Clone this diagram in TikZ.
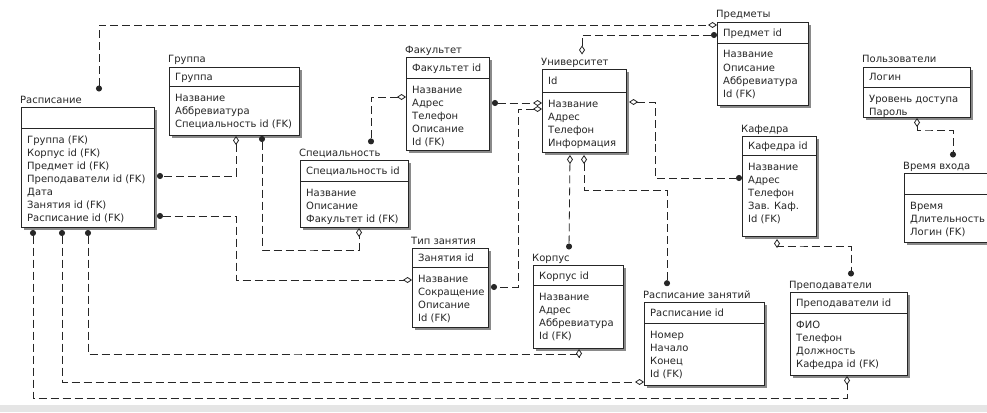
\documentclass[tikz,border=0pt]{standalone}
\usepackage{fontspec}
\setmainfont{DejaVu Sans}
\usetikzlibrary{arrows.meta,calc}
\definecolor{ink}{HTML}{262626}
\definecolor{shadowc}{HTML}{8A8A8A}
\tikzset{
  ebox/.style={draw=ink, line width=0.8pt, fill=white, inner sep=0pt, outer sep=0pt},
  eline/.style={draw=ink, line width=0.8pt},
  etxt/.style={inner sep=0pt, text=ink, font=\fontsize{10}{12}\selectfont},
  rel/.style={draw=ink, line width=0.8pt, dash pattern=on 8pt off 4pt},
  erdot/.tip={Circle[length=6pt]},
  erdia/.tip={Diamond[open,length=9pt,width=6pt,fill=white]}
}
\newcommand\ent[9]{%
  \fill[shadowc] ({#2+3},{#3+3}) rectangle ({#4+3},{#6+3});
  \node[ebox, anchor=north west, minimum width={(#4-#2)*1pt}, minimum height={(#6-#3)*1pt}] (#1) at (#2,#3) {};
  \draw[eline] (#2,#5) -- (#4,#5);
  \node[etxt, anchor=base west] (#1-t) at ({#2-1},{#3-4}) {#7};
  \node[etxt, anchor=base west] (#1-h) at ({#2+6},{(#3+#5)/2+4}) {#8};
  \foreach \rowtext [count=\i from 0] in {#9} {\node[etxt, anchor=base west] (#1-r\i) at ({#2+6},{#5+15+13*\i}) {\rowtext};}%
}
\begin{document}
\begin{tikzpicture}[x=1pt,y=-1pt]
\useasboundingbox (0,0) rectangle (987,412);
\fill[white] (0,0) rectangle (987,412);
\fill[black!10] (0,405) rectangle (987,412);
% entities
\ent{rasp}{21}{107}{154}{128}{227}{Расписание}{}{{Группа (FK)},{Корпус id (FK)},{Предмет id (FK)},{Преподаватели id (FK)},{Дата},{Занятия id (FK)},{Расписание id (FK)}}
\ent{grp}{169}{67}{299}{86}{135}{Группа}{Группа}{{Название},{Аббревиатура},{Специальность id (FK)}}
\ent{spec}{300}{160}{408}{181}{227}{Специальность}{Специальность id}{{Название},{Описание},{Факультет id (FK)}}
\ent{fak}{406}{57}{489}{78}{150}{Факультет}{Факультет id}{{Название},{Адрес},{Телефон},{Описание},{Id (FK)}}
\ent{univ}{542}{69}{626}{92}{152}{Университет}{Id}{{Название},{Адрес},{Телефон},{Информация}}
\ent{pred}{717}{22}{808}{43}{105}{Предметы}{Предмет id}{{Название},{Описание},{Аббревиатура},{Id (FK)}}
\ent{users}{863}{67}{970}{87}{117}{Пользователи}{Логин}{{Уровень доступа},{Пароль}}
\ent{vhod}{904}{173}{995}{194}{242}{Время входа}{}{{Время},{Длительность},{Логин (FK)}}
\ent{kaf}{742}{136}{816}{155}{236}{Кафедра}{Кафедра id}{{Название},{Адрес},{Телефон},{Зав. Каф.},{Id (FK)}}
\ent{tip}{412}{248}{488}{267}{327}{Тип занятия}{Занятия id}{{Название},{Сокращение},{Описание},{Id (FK)}}
\ent{korp}{533}{265}{623}{285}{348}{Корпус}{Корпус id}{{Название},{Адрес},{Аббревиатура},{Id (FK)}}
\ent{rz}{644}{302}{764}{323}{385}{Расписание занятий}{Расписание id}{{Номер},{Начало},{Конец},{Id (FK)}}
\ent{prep}{790}{292}{907}{313}{375}{Преподаватели}{Преподаватели id}{{ФИО},{Телефон},{Должность},{Кафедра id (FK)}}
% relationships
\draw[rel, erdot-erdia] ([xshift=79pt,yshift=4pt]rasp-t.north west) |- ([yshift=-3pt]pred.north west);
\draw[rel, erdia-erdot] ([xshift=41pt,yshift=3pt]univ-t.north west) |- ([yshift=-13pt]pred.north west);
\draw[rel, erdia-erdot] ([xshift=67pt,yshift=-1pt]grp.south west) |- ([xshift=3pt]rasp.east |- 0,176);
\draw[rel, erdot-erdia] ([xshift=3pt]rasp.east |- 0,216) -| (236,250) |- (tip.west |- 0,280);
\draw[rel, erdot-erdia] ([xshift=93pt,yshift=-1pt]grp.south west) |- (310,250) -| ([xshift=59pt,yshift=-1pt]spec.south west);
\draw[rel, erdia-erdot] ([yshift=-40pt]fak.north west) -| ([xshift=72pt,yshift=4pt]spec-t.north west);
\draw[rel, erdot-erdia] ([xshift=3pt]fak.east |- 0,103) -- (univ.west |- 0,103);
\draw[rel, erdia-erdot] (univ.west |- 0,109) -| (518,200) |- ([xshift=3pt]tip.east |- 0,287);
\draw[rel, erdia-erdot] ([xshift=3pt]univ.east |- 0,102) -| (655,140) |- (kaf.west |- 0,178);
\draw[rel, erdia-erdot] ([xshift=28pt,yshift=-3pt]univ.south west) -- ([xshift=37pt,yshift=4pt]korp-t.north west);
\draw[rel, erdia-erdot] ([xshift=42pt,yshift=-3pt]univ.south west) |- (620,190) -| ([xshift=24pt,yshift=4pt]rz-t.north west);
\draw[rel, erdia-erdot] ([xshift=35pt,yshift=-3pt]kaf.south west) |- (800,246) -| ([xshift=62pt,yshift=4pt]prep-t.north west);
\draw[rel, erdia-erdot] ([xshift=54pt,yshift=-1pt]users.south west) |- (930,130) -| ([xshift=50pt,yshift=4pt]vhod-t.north west);
\draw[rel, erdot-erdia] ([xshift=67pt,yshift=-3pt]rasp.south west) |- (300,354) -| ([xshift=46pt,yshift=-1pt]korp.south west);
\draw[rel, erdot-erdia] ([xshift=41pt,yshift=-3pt]rasp.south west) |- (rz.west |- 0,382);
\draw[rel, erdot-erdia] ([xshift=12pt,yshift=-3pt]rasp.south west) |- (500,398) -| ([xshift=57pt,yshift=-1pt]prep.south west);
\end{tikzpicture}
\end{document}
